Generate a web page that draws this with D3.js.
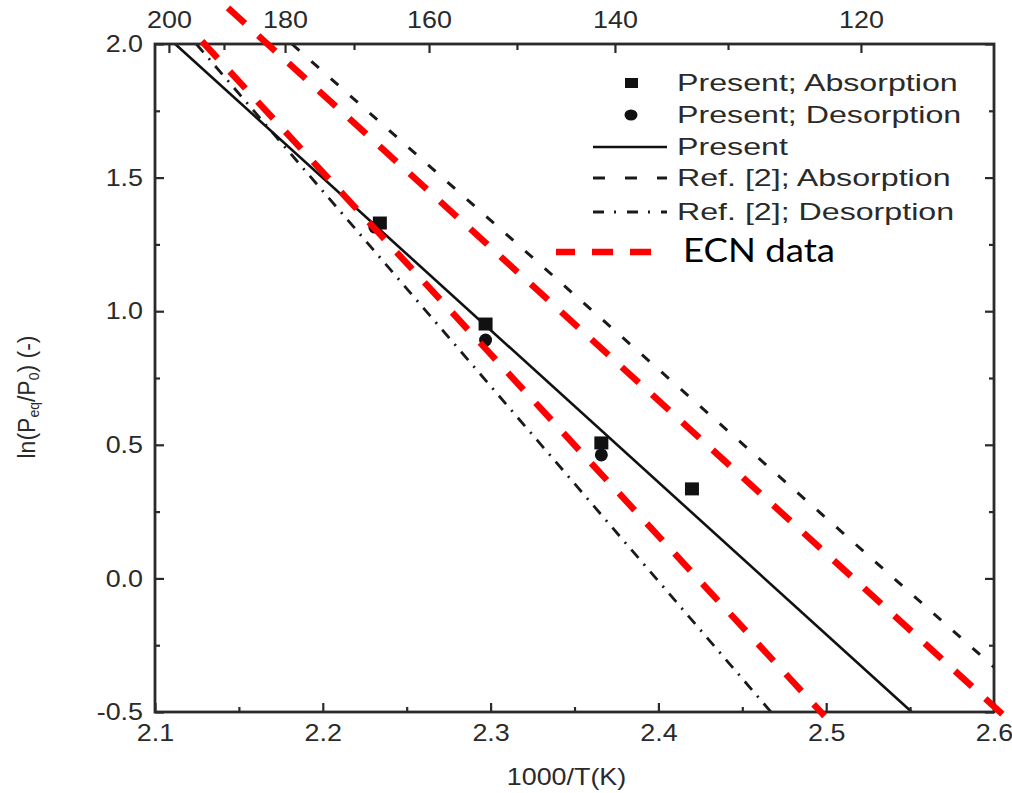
<!DOCTYPE html>
<html>
<head>
<meta charset="utf-8">
<script src="https://cdn.jsdelivr.net/npm/d3@7"></script>
<style>
  body { margin: 0; background: #fff; }
  svg { display: block; font-family: "Liberation Sans", Arial, sans-serif; }
</style>
</head>
<body>
<svg width="1012" height="793"></svg>
<script>
// x = 1000/T (1/K), y = ln(Peq/P0)
const presentAbsX = [2.234, 2.297, 2.366, 2.420];
const presentAbsY = [1.330, 0.952, 0.507, 0.335];
const presentDesX = [2.231, 2.297, 2.366];
const presentDesY = [1.315, 0.892, 0.462];

// fitted lines, two end points each
const presentLineX = [2.112, 2.551];
const presentLineY = [2.0, -0.5];
const refAbsLineX = [2.1816, 2.6];
const refAbsLineY = [2.0, -0.332];
const refDesLineX = [2.1246, 2.4671];
const refDesLineY = [2.0, -0.5];

// ECN data (red, drawn over the figure)
const ecnLine1X = [2.128, 2.499];
const ecnLine1Y = [2.01, -0.515];
const ecnLine2X = [2.1435, 2.6095];
const ecnLine2Y = [2.135, -0.534];

const xTicks = [2.1, 2.2, 2.3, 2.4, 2.5, 2.6];
const xMinor = [2.15, 2.25, 2.35, 2.45, 2.55];
const yTicks = [-0.5, 0.0, 0.5, 1.0, 1.5, 2.0];
const yMinor = [-0.25, 0.25, 0.75, 1.25, 1.75];
// top axis: temperature labels placed at their 1000/T position
const topTickLabels = [200, 180, 160, 140, 120];
const topTickPos = [2.1083, 2.1775, 2.2633, 2.3741, 2.5207];
const topMinorPos = [2.1411, 2.2186, 2.3157, 2.4415];

const legendLabels = ["Present; Absorption", "Present; Desorption", "Present",
                      "Ref. [2]; Absorption", "Ref. [2]; Desorption"];
const ecnLabel = "ECN data";

const pLeft = 155, pRight = 994, pTop = 44, pBottom = 712;
const ink = "#2a2a2a";

const svg = d3.select("svg");

const x = d3.scaleLinear().domain([2.1, 2.6]).range([pLeft, pRight]);
const y = d3.scaleLinear().domain([-0.5, 2.0]).range([pBottom, pTop]);

const line = d3.line().x(d => x(d[0])).y(d => y(d[1]));

// stretch text horizontally like the (widened) source image
function stretch(sel, k) {
  sel.each(function() {
    const len = this.getComputedTextLength();
    d3.select(this).attr("textLength", len * k).attr("lengthAdjust", "spacingAndGlyphs");
  });
}

// black curves
const plot = svg.append("g");
plot.append("path")
    .attr("d", line(d3.zip(refDesLineX, refDesLineY)))
    .attr("fill", "none").attr("stroke", "#1a1a1a").attr("stroke-width", 2.8)
    .attr("stroke-dasharray", "11,8,2,8");
plot.append("path")
    .attr("d", line(d3.zip(refAbsLineX, refAbsLineY)))
    .attr("fill", "none").attr("stroke", "#1a1a1a").attr("stroke-width", 3)
    .attr("stroke-dasharray", "10,16");
plot.append("path")
    .attr("d", line(d3.zip(presentLineX, presentLineY)))
    .attr("fill", "none").attr("stroke", "#111").attr("stroke-width", 2.6);

// markers
plot.selectAll("rect.abs")
    .data(d3.zip(presentAbsX, presentAbsY))
    .enter().append("rect")
    .attr("class", "abs")
    .attr("x", d => x(d[0]) - 7).attr("y", d => y(d[1]) - 6.5)
    .attr("width", 14).attr("height", 13)
    .attr("fill", "#111");
plot.selectAll("circle.des")
    .data(d3.zip(presentDesX, presentDesY))
    .enter().append("circle")
    .attr("class", "des")
    .attr("cx", d => x(d[0])).attr("cy", d => y(d[1]))
    .attr("r", 6.5)
    .attr("fill", "#111");

// axes, ticks pointing inward
function axisStyle(g) {
  g.select(".domain").remove();
  g.selectAll(".tick line").attr("stroke", ink).attr("stroke-width", 2.2);
  g.selectAll(".tick text").attr("fill", ink).attr("font-size", 24);
}

const gBottom = svg.append("g").attr("transform", `translate(0,${pBottom})`);
gBottom.append("g").call(d3.axisBottom(x).tickValues(xMinor).tickSize(-5).tickFormat("")).call(axisStyle);
gBottom.append("g").call(d3.axisBottom(x).tickValues(xTicks).tickSize(-9).tickPadding(12)
    .tickFormat(d => d.toFixed(1))).call(axisStyle);

const gTop = svg.append("g").attr("transform", `translate(0,${pTop})`);
gTop.append("g").call(d3.axisTop(x).tickValues(topMinorPos).tickSize(-6).tickFormat("")).call(axisStyle);
gTop.append("g").call(d3.axisTop(x).tickValues(topTickPos).tickSize(-9).tickPadding(16)
    .tickFormat((d, i) => topTickLabels[i])).call(axisStyle);

const gLeft = svg.append("g").attr("transform", `translate(${pLeft},0)`);
gLeft.append("g").call(d3.axisLeft(y).tickValues(yMinor).tickSize(-5).tickFormat("")).call(axisStyle);
gLeft.append("g").call(d3.axisLeft(y).tickValues(yTicks).tickSize(-9).tickPadding(12)
    .tickFormat(d => d.toFixed(1))).call(axisStyle);

const gRight = svg.append("g").attr("transform", `translate(${pRight},0)`);
gRight.append("g").call(d3.axisRight(y).tickValues(yMinor).tickSize(-5).tickFormat("")).call(axisStyle);
gRight.append("g").call(d3.axisRight(y).tickValues(yTicks).tickSize(-9).tickFormat("")).call(axisStyle);

svg.selectAll(".tick text").call(stretch, 1.12);

// frame
svg.append("rect")
    .attr("x", pLeft).attr("y", pTop)
    .attr("width", pRight - pLeft).attr("height", pBottom - pTop)
    .attr("fill", "none").attr("stroke", ink).attr("stroke-width", 2.8);

// axis titles
svg.append("text")
    .attr("x", (pLeft + pRight) / 2 - 8).attr("y", 785)
    .attr("text-anchor", "middle").attr("font-size", 24).attr("fill", ink)
    .text("1000/T(K)")
    .call(stretch, 1.12);

const yTitle = svg.append("text")
    .attr("transform", "translate(35,397) rotate(-90)")
    .attr("text-anchor", "middle").attr("font-size", 23).attr("fill", ink);
yTitle.append("tspan").text("ln(P");
yTitle.append("tspan").attr("font-size", 14).attr("baseline-shift", "-25%").text("eq");
yTitle.append("tspan").text("/P");
yTitle.append("tspan").attr("font-size", 14).attr("baseline-shift", "-25%").text("0");
yTitle.append("tspan").text(") (-)");

// legend
const legendRows = [83, 115, 147, 178, 212];
const lg = svg.append("g");
lg.selectAll("text.lab")
    .data(legendLabels)
    .enter().append("text")
    .attr("class", "lab")
    .attr("x", 677).attr("y", (d, i) => legendRows[i] + 8)
    .attr("font-size", 24).attr("fill", ink)
    .text(d => d)
    .call(stretch, 1.34);
lg.append("rect").attr("x", 625).attr("y", legendRows[0] - 5).attr("width", 13).attr("height", 10).attr("fill", "#111");
lg.append("ellipse").attr("cx", 631).attr("cy", legendRows[1]).attr("rx", 6.5).attr("ry", 5.5).attr("fill", "#111");
lg.append("line").attr("x1", 593).attr("x2", 667).attr("y1", legendRows[2]).attr("y2", legendRows[2])
    .attr("stroke", "#111").attr("stroke-width", 2.6);
lg.append("line").attr("x1", 593).attr("x2", 667).attr("y1", legendRows[3]).attr("y2", legendRows[3])
    .attr("stroke", "#1a1a1a").attr("stroke-width", 2.8).attr("stroke-dasharray", "12,20");
lg.append("line").attr("x1", 593).attr("x2", 667).attr("y1", legendRows[4]).attr("y2", legendRows[4])
    .attr("stroke", "#1a1a1a").attr("stroke-width", 2.8).attr("stroke-dasharray", "11,10,2,11");

// red ECN lines on top of everything
const red = svg.append("g");
[[ecnLine1X, ecnLine1Y], [ecnLine2X, ecnLine2Y]].forEach(([xs, ys]) => {
  red.append("path")
      .attr("d", line(d3.zip(xs, ys)))
      .attr("fill", "none").attr("stroke", "#ff0000").attr("stroke-width", 6.5)
      .attr("stroke-dasharray", "23,18");
});
red.append("line").attr("x1", 556).attr("x2", 656).attr("y1", 252).attr("y2", 252)
    .attr("stroke", "#ff0000").attr("stroke-width", 6.5).attr("stroke-dasharray", "21,17")
    .attr("stroke-dashoffset", 2);
red.append("text")
    .attr("x", 683).attr("y", 262)
    .attr("font-family", "Lato, 'Open Sans', sans-serif").attr("font-size", 33).attr("fill", "#000")
    .attr("textLength", 152).attr("lengthAdjust", "spacingAndGlyphs")
    .text(ecnLabel);
</script>
</body>
</html>
